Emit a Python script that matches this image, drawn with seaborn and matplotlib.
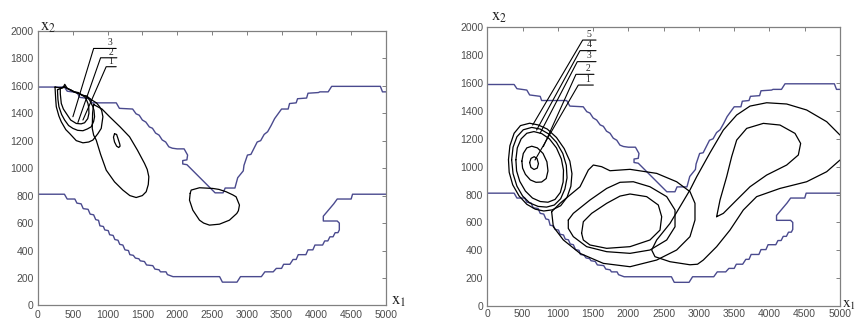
import matplotlib
matplotlib.use("Agg")
import matplotlib.pyplot as plt
import seaborn as sns

# --------------------------
# Data (x1, x2 units)
# --------------------------

# channel boundary, shared by both panels
upper_x = [0, 380, 420, 560, 600, 750, 770, 1125, 1170, 1360, 1410, 1455, 1500, 1550, 1600, 1645,
           1690, 1740, 1785, 1835, 1880, 1930, 2000, 2100, 2150, 2140, 2080, 2080, 2140, 2545, 2660,
           2690, 2830, 2870, 2950, 2960, 3010, 3060, 3100, 3150, 3200, 3250, 3300, 3350, 3400, 3450,
           3500, 3595, 3615, 3710, 3730, 3860, 3880, 4030, 4050, 4170, 4220, 4920, 4950, 5000]
upper_y = [1590, 1590, 1560, 1550, 1515, 1505, 1475, 1475, 1435, 1430, 1395, 1385, 1350, 1335, 1300, 1290,
           1255, 1240, 1205, 1190, 1155, 1145, 1140, 1140, 1095, 1060, 1055, 1030, 1025, 820, 820,
           855, 855, 930, 980, 1020, 1095, 1100, 1140, 1190, 1200, 1245, 1265, 1310, 1360, 1395,
           1430, 1430, 1470, 1475, 1505, 1510, 1545, 1550, 1555, 1555, 1595, 1595, 1555, 1555]

lower_x = [0, 380, 420, 530, 560, 620, 650, 720, 750, 800, 830, 870, 890, 940, 960, 1010, 1030,
           1080, 1105, 1150, 1175, 1220, 1250, 1300, 1320, 1370, 1400, 1450, 1470, 1530, 1560, 1650,
           1680, 1740, 1760, 1840, 1860, 1940, 2610, 2650, 2860, 2910, 3210, 3260, 3380, 3425, 3500,
           3530, 3620, 3665, 3710, 3740, 3850, 3880, 3950, 3980, 4090, 4120, 4165, 4195, 4240, 4270,
           4310, 4330, 4330, 4300, 4100, 4100, 4150, 4250, 4300, 4500, 4520, 5000]
lower_y = [810, 810, 775, 775, 745, 740, 705, 700, 665, 660, 625, 620, 580, 575, 550, 545, 515,
           510, 480, 475, 445, 440, 405, 400, 370, 365, 345, 340, 325, 320, 295, 290,
           265, 260, 245, 245, 225, 210, 210, 170, 170, 210, 210, 245, 245, 270, 270,
           300, 300, 335, 335, 370, 370, 405, 405, 440, 440, 470, 470, 500, 500, 530,
           530, 550, 600, 615, 615, 650, 680, 740, 775, 775, 810, 810]

# left panel contours
left_egg3 = [(245, 1590), (255, 1500), (263, 1447), (300, 1380), (335, 1337), (400, 1280), (455, 1252),
             (550, 1200), (646, 1184), (730, 1190), (789, 1204), (860, 1250), (909, 1289), (933, 1374),
             (915, 1420), (885, 1447), (840, 1475), (760, 1500), (700, 1525), (640, 1530), (580, 1550),
             (520, 1555), (470, 1570), (420, 1580), (385, 1610), (360, 1585), (300, 1585)]
left_egg2 = [(280, 1570), (287, 1500), (301, 1447), (340, 1390), (383, 1350), (440, 1310), (502, 1289),
             (570, 1275), (646, 1272), (710, 1285), (766, 1301), (800, 1340), (813, 1374), (805, 1420),
             (789, 1447), (742, 1495), (700, 1520), (620, 1535), (540, 1550), (460, 1570), (380, 1590)]
left_egg1 = [(320, 1580), (321, 1540), (335, 1471), (365, 1430), (407, 1398), (470, 1350), (550, 1325),
             (620, 1322), (670, 1330), (715, 1360), (732, 1398), (730, 1440), (718, 1471), (690, 1505),
             (670, 1519), (600, 1540), (520, 1555), (440, 1575), (380, 1595)]
left_long = [(800, 1465), (785, 1400), (780, 1289), (800, 1240), (837, 1204), (900, 1100), (981, 985),
             (1100, 900), (1220, 840), (1320, 800), (1411, 786), (1500, 800), (1555, 828), (1585, 880),
             (1593, 937), (1570, 990), (1531, 1034), (1430, 1130), (1316, 1228), (1180, 1300),
             (1029, 1374), (920, 1430), (813, 1459)]
left_small = [(1100, 1250), (1130, 1245), (1150, 1215), (1175, 1175), (1180, 1160), (1160, 1150),
              (1130, 1160), (1100, 1190), (1085, 1225)]
left_kidney = [(2187, 816), (2201, 840), (2321, 857), (2512, 852), (2600, 845), (2703, 828), (2800, 805),
               (2847, 791), (2895, 731), (2880, 690), (2857, 670), (2751, 621), (2608, 592), (2464, 585),
               (2380, 600), (2321, 621), (2225, 694), (2177, 767)]

# right panel contours
right_ring1 = [(600, 1030), (620, 1060), (665, 1072), (705, 1058), (725, 1022), (708, 990), (662, 980), (618, 995)]
right_ring2 = [(490, 1040), (510, 1095), (560, 1135), (630, 1147), (710, 1135), (790, 1095), (845, 1035),
               (860, 970), (835, 915), (770, 890), (690, 888), (610, 905), (540, 945), (500, 990)]
right_ring3 = [(405, 1050), (425, 1135), (480, 1200), (560, 1240), (660, 1252), (770, 1238), (880, 1200),
               (980, 1135), (1050, 1055), (1080, 975), (1075, 890), (1035, 815), (960, 765), (860, 745),
               (750, 750), (640, 775), (540, 825), (460, 895), (415, 970)]
right_ring4 = [(345, 1050), (365, 1140), (420, 1215), (510, 1265), (630, 1282), (750, 1270), (870, 1235),
               (980, 1175), (1070, 1095), (1120, 1010), (1130, 920), (1100, 840), (1040, 770), (950, 725),
               (840, 710), (720, 715), (600, 740), (500, 790), (420, 860), (365, 950)]
right_ring5 = [(300, 1050), (320, 1150), (380, 1240), (470, 1295), (600, 1312), (720, 1300), (850, 1270),
               (980, 1210), (1090, 1130), (1170, 1040), (1200, 950), (1185, 860), (1130, 780), (1040, 720),
               (920, 690), (800, 682), (680, 695), (560, 730), (450, 790), (360, 870), (310, 960)]
right_blob_outer = [(912, 677), (1030, 737), (1314, 856), (1432, 976), (1503, 1012), (1621, 1000),
                    (1739, 971), (2023, 981), (2401, 952), (2684, 892), (2873, 821), (2944, 737),
                    (2944, 617), (2873, 498), (2684, 402), (2401, 330), (2023, 282), (1645, 306),
                    (1314, 378), (1078, 474), (936, 569)]
right_blob_mid = [(1148, 617), (1219, 665), (1456, 761), (1692, 844), (1881, 888), (2070, 892), (2306, 856),
                  (2543, 785), (2661, 689), (2661, 569), (2543, 474), (2306, 402), (2023, 378), (1692, 390),
                  (1408, 426), (1219, 498), (1148, 557)]
right_blob_inner = [(1337, 522), (1361, 605), (1479, 665), (1692, 737), (1881, 789), (2023, 804), (2259, 785),
                    (2424, 725), (2472, 641), (2448, 545), (2306, 474), (2023, 426), (1692, 414), (1456, 438),
                    (1361, 474)]
right_s = [(5000, 1227), (4811, 1323), (4527, 1407), (4244, 1450), (3960, 1459), (3724, 1435), (3535, 1371),
           (3346, 1263), (3157, 1100), (2968, 928), (2873, 833), (2732, 713), (2590, 593), (2401, 474),
           (2330, 402), (2377, 354), (2590, 318), (2873, 296), (2980, 300), (3062, 330), (3251, 426),
           (3440, 545), (3629, 689), (3818, 785), (4149, 844), (4527, 892), (4811, 964), (5000, 1048)]
right_tear = [(3251, 641), (3299, 761), (3393, 928), (3464, 1072), (3535, 1191), (3677, 1275), (3913, 1311),
              (4149, 1299), (4362, 1239), (4442, 1167), (4409, 1084), (4244, 1012), (3960, 940), (3724, 856),
              (3535, 761), (3346, 665)]

# numbered leader lines: label, text position, polyline
left_labels = ["3", "2", "1"]
left_label_pos = [(1040, 1880), (1045, 1810), (1045, 1745)]
left_leaders = [[(1124, 1871), (800, 1871), (502, 1374)],
                [(1134, 1803), (900, 1803), (574, 1332)],
                [(1124, 1738), (980, 1738), (646, 1350)]]
right_labels = ["5", "4", "3", "2", "1"]
right_label_pos = [(1446, 1918), (1446, 1842), (1446, 1763), (1432, 1672), (1422, 1595)]
right_leaders = [[(1541, 1909), (1352, 1909), (643, 1299)],
                 [(1541, 1833), (1314, 1833), (699, 1263)],
                 [(1541, 1754), (1276, 1754), (747, 1239)],
                 [(1512, 1663), (1257, 1663), (794, 1144)],
                 [(1503, 1586), (1290, 1586), (676, 1048)]]

x_ticks = list(range(0, 5001, 500))
y_ticks = list(range(0, 2001, 200))

# --------------------------
# Styling
# --------------------------
sns.set_style("white")
plt.rcParams["font.family"] = ["Liberation Sans", "DejaVu Sans"]
plt.rcParams["mathtext.fontset"] = "stix"

BLUE = "#4a4a8e"
GRAY = "#808080"


def draw(ax, pts, color="black", lw=0.9, closed=True):
    xs = [p[0] for p in pts]
    ys = [p[1] for p in pts]
    if closed:
        xs.append(xs[0])
        ys.append(ys[0])
    sns.lineplot(x=xs, y=ys, sort=False, estimator=None, color=color, lw=lw, ax=ax)


def setup(ax, xpad):
    ax.set_xlim(0, 5000)
    ax.set_ylim(0, 2000)
    ax.set_xticks(x_ticks)
    ax.set_yticks(y_ticks)
    ax.tick_params(direction="in", top=True, right=True, length=3, width=0.7,
                   colors=GRAY, labelcolor="#4d4d4d", labelsize=7.5, pad=3)
    ax.tick_params(axis="x", pad=xpad)
    for s in ax.spines.values():
        s.set_color(GRAY)
        s.set_linewidth(0.9)
    ax.set_xlabel("")
    ax.set_ylabel("")
    sns.lineplot(x=upper_x, y=upper_y, sort=False, estimator=None, color=BLUE, lw=1.0, ax=ax)
    sns.lineplot(x=lower_x, y=lower_y, sort=False, estimator=None, color=BLUE, lw=1.0, ax=ax)


def leaders(ax, labels, pos, lines):
    for lab, (tx, ty), ln in zip(labels, pos, lines):
        draw(ax, ln, lw=0.8, closed=False)
        ax.text(tx, ty, lab, fontsize=7, family=["Liberation Serif", "DejaVu Serif"],
                ha="center", va="bottom")


fig = plt.figure(figsize=(8.59, 3.21), dpi=100)
ax1 = fig.add_axes([0.0442, 0.0483, 0.4051, 0.856])
ax2 = fig.add_axes([0.5673, 0.0467, 0.4106, 0.868])

# left panel
setup(ax1, 3.5)
for c in [left_egg3, left_egg2, left_egg1, left_long, left_small, left_kidney]:
    draw(ax1, c)
leaders(ax1, left_labels, left_label_pos, left_leaders)
ax1.text(1.015, -0.012, r"$\mathrm{x}_1$", transform=ax1.transAxes, fontsize=12, va="bottom")
ax1.text(0.005, 0.985, r"$\mathrm{x}_2$", transform=ax1.transAxes, fontsize=12, va="bottom")

# right panel
setup(ax2, 2.5)
for c in [right_ring1, right_ring2, right_ring3, right_ring4, right_ring5,
          right_blob_outer, right_blob_mid, right_blob_inner, right_tear]:
    draw(ax2, c)
draw(ax2, right_s, closed=False)
leaders(ax2, right_labels, right_label_pos, right_leaders)
ax2.text(1.006, -0.02, r"$\mathrm{x}_1$", transform=ax2.transAxes, fontsize=11, va="bottom")
ax2.text(0.01, 1.01, r"$\mathrm{x}_2$", transform=ax2.transAxes, fontsize=12, va="bottom")

fig.savefig("out.png", dpi=100)
